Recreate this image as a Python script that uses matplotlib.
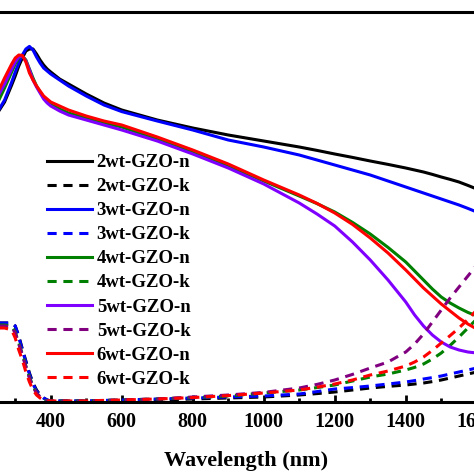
import numpy as np
import matplotlib
matplotlib.use("Agg")
import matplotlib.pyplot as plt

plt.rcParams['font.family'] = 'serif'
plt.rcParams['font.serif'] = ['Liberation Serif', 'DejaVu Serif']
plt.rcParams['font.weight'] = 'bold'

# wavelength grid (nm)
wl = [250, 270, 290, 300, 310, 320, 330, 340, 350, 360, 370, 380, 390, 400, 425, 450,
      500, 550, 600, 700, 800, 900, 1000, 1100, 1150, 1200, 1250, 1300, 1350, 1400,
      1425, 1450, 1475, 1500, 1525, 1550, 1575, 1600, 1650]

# refractive index n
n_2wt = [1.445, 1.50, 1.585, 1.63, 1.68, 1.72, 1.755, 1.765, 1.765, 1.74, 1.71, 1.685, 1.665, 1.65, 1.615, 1.59,
         1.54, 1.495, 1.46, 1.41, 1.37, 1.335, 1.305, 1.275, 1.258, 1.24, 1.223, 1.205, 1.188, 1.17,
         1.16, 1.15, 1.138, 1.125, 1.113, 1.10, 1.083, 1.065, 1.035]
n_3wt = [1.45, 1.51, 1.60, 1.65, 1.695, 1.735, 1.765, 1.778, 1.76, 1.725, 1.695, 1.67, 1.655, 1.64, 1.61, 1.58,
         1.53, 1.485, 1.452, 1.405, 1.36, 1.31, 1.275, 1.235, 1.21, 1.185, 1.16, 1.135, 1.105, 1.075,
         1.06, 1.045, 1.03, 1.015, 1.0, 0.985, 0.968, 0.95, 0.92]
n_4wt = [1.495, 1.57, 1.65, 1.69, 1.72, 1.73, 1.71, 1.665, 1.62, 1.58, 1.55, 1.525, 1.505, 1.49, 1.465, 1.445,
         1.42, 1.395, 1.375, 1.315, 1.25, 1.18, 1.105, 1.03, 0.992, 0.95, 0.898, 0.84, 0.773, 0.70,
         0.655, 0.61, 0.565, 0.525, 0.495, 0.47, 0.448, 0.43, 0.405]
n_5wt = [1.525, 1.59, 1.665, 1.70, 1.725, 1.73, 1.705, 1.66, 1.61, 1.575, 1.545, 1.515, 1.495, 1.48, 1.455, 1.435,
         1.41, 1.385, 1.36, 1.305, 1.24, 1.17, 1.09, 0.995, 0.94, 0.88, 0.80, 0.71, 0.61, 0.50,
         0.435, 0.38, 0.335, 0.30, 0.275, 0.26, 0.25, 0.245, 0.245]
n_6wt = [1.545, 1.62, 1.69, 1.72, 1.735, 1.733, 1.70, 1.645, 1.61, 1.58, 1.555, 1.53, 1.515, 1.50, 1.48, 1.46,
         1.43, 1.405, 1.385, 1.325, 1.26, 1.19, 1.11, 1.035, 0.993, 0.945, 0.888, 0.82, 0.745, 0.66,
         0.615, 0.57, 0.53, 0.49, 0.455, 0.42, 0.39, 0.365, 0.33]

# extinction coefficient k
k_2wt = [0.395, 0.395, 0.395, 0.38, 0.33, 0.265, 0.205, 0.145, 0.095, 0.06, 0.035, 0.02, 0.01, 0.005, 0.005, 0.005,
         0.005, 0.005, 0.008, 0.01, 0.015, 0.02, 0.025, 0.035, 0.042, 0.05, 0.06, 0.07, 0.078, 0.085,
         0.09, 0.095, 0.102, 0.11, 0.12, 0.13, 0.14, 0.15, 0.175]
k_3wt = [0.395, 0.395, 0.395, 0.38, 0.325, 0.26, 0.20, 0.14, 0.09, 0.055, 0.035, 0.02, 0.01, 0.005, 0.005, 0.005,
         0.005, 0.008, 0.01, 0.015, 0.02, 0.025, 0.03, 0.04, 0.052, 0.065, 0.072, 0.08, 0.09, 0.10,
         0.107, 0.115, 0.122, 0.13, 0.14, 0.15, 0.16, 0.17, 0.195]
k_4wt = [0.385, 0.385, 0.38, 0.35, 0.295, 0.24, 0.18, 0.125, 0.08, 0.045, 0.025, 0.01, 0.005, 0.005, 0.005, 0.005,
         0.005, 0.008, 0.01, 0.015, 0.022, 0.03, 0.045, 0.06, 0.072, 0.085, 0.105, 0.125, 0.14, 0.16,
         0.173, 0.19, 0.215, 0.245, 0.283, 0.325, 0.37, 0.415, 0.51]
k_5wt = [0.38, 0.38, 0.375, 0.345, 0.29, 0.235, 0.175, 0.12, 0.075, 0.045, 0.025, 0.01, 0.005, 0.005, 0.005, 0.005,
         0.005, 0.008, 0.01, 0.015, 0.025, 0.035, 0.048, 0.07, 0.088, 0.11, 0.138, 0.17, 0.20, 0.25,
         0.29, 0.34, 0.40, 0.46, 0.52, 0.575, 0.63, 0.685, 0.79]
k_6wt = [0.37, 0.37, 0.36, 0.32, 0.26, 0.21, 0.15, 0.10, 0.06, 0.035, 0.02, 0.01, 0.005, 0.005, 0.005, 0.005,
         0.005, 0.008, 0.01, 0.015, 0.022, 0.032, 0.045, 0.06, 0.074, 0.09, 0.11, 0.135, 0.155, 0.18,
         0.20, 0.225, 0.258, 0.295, 0.332, 0.37, 0.413, 0.46, 0.56]

samples = ['2wt', '3wt', '4wt', '5wt', '6wt']
n_data = [n_2wt, n_3wt, n_4wt, n_5wt, n_6wt]
k_data = [k_2wt, k_3wt, k_4wt, k_5wt, k_6wt]
n_colors = ['black', '#0000FF', '#008000', '#8000FF', '#FF0000']
k_colors = ['black', '#0000FF', '#008000', '#800080', '#FF0000']

fig = plt.figure(figsize=(4.74, 4.74), dpi=100)
# the original figure is cropped, so the axes run past the left/right edges
ax = fig.add_axes([-5 / 474, 72 / 474, 502 / 474, 390 / 474])

lw = 2.2
for s, n, k, cn, ck in zip(samples, n_data, k_data, n_colors, k_colors):
    ax.plot(wl, n, color=cn, lw=lw, solid_joinstyle='round', label=s + '-GZO-n')
    ax.plot(wl, k, color=ck, lw=lw, ls=(0, (3, 2.2)), dash_joinstyle='round',
            label=s + '-GZO-k')

ax.set_xlim(243, 1657)
ax.set_ylim(0, 1.95)
ax.set_xticks(np.arange(400, 1700, 200))
ax.set_xticks(np.arange(300, 1700, 100), minor=True)
ax.set_yticks([])
ax.tick_params(axis='x', which='major', direction='in', length=5, width=2,
               labelsize=14.5, pad=7)
ax.tick_params(axis='x', which='minor', direction='in', length=3, width=2)
for lab in ax.get_xticklabels():
    lab.set_fontweight('bold')
for sp in ['top', 'bottom']:
    ax.spines[sp].set_linewidth(2.2)
ax.spines['left'].set_visible(False)
ax.spines['right'].set_visible(False)

ax.set_xlabel('Wavelength (nm)', fontsize=16, fontweight='bold', labelpad=14)

ax.legend(loc='upper left', bbox_to_anchor=(47 / 474, 1 - 154 / 474),
          bbox_transform=fig.transFigure, frameon=False,
          handlelength=2.4, handletextpad=0.25, labelspacing=0.37,
          borderpad=0, borderaxespad=0, prop={'weight': 'bold', 'size': 13.5})

fig.savefig('out.png', dpi=100)
